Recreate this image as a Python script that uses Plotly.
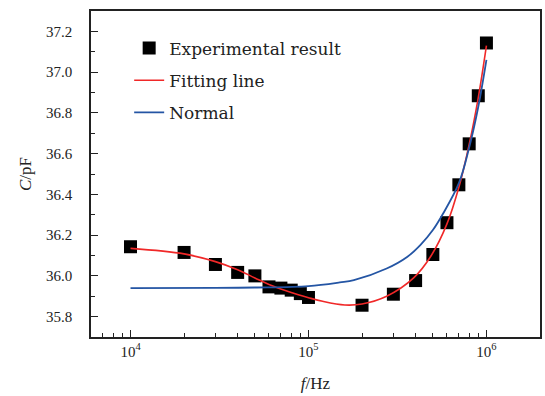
import plotly.graph_objects as go

# Experimental data
freq_exp = [1e4, 2e4, 3e4, 4e4, 5e4, 6e4, 7e4, 8e4, 9e4, 1e5,
            2e5, 3e5, 4e5, 5e5, 6e5, 7e5, 8e5, 9e5, 1e6]
cap_exp = [36.143, 36.115, 36.056, 36.017, 36.000, 35.946, 35.940, 35.930, 35.913, 35.894,
           35.856, 35.910, 35.977, 36.105, 36.261, 36.447, 36.648, 36.884, 37.143]

# Fitting line
freq_fit = [1e4, 2e4, 3e4, 4e4, 5e4, 6e4, 8e4, 1e5, 1.2e5, 1.6e5, 2e5,
            2.75e5, 3.9e5, 4.9e5, 6e5, 7e5, 8e5, 9e5, 1e6]
cap_fit = [36.135, 36.108, 36.070, 36.030, 35.990, 35.958, 35.918, 35.893, 35.875, 35.857, 35.862,
           35.900, 35.990, 36.100, 36.255, 36.435, 36.645, 36.875, 37.130]

# Normal curve
freq_norm = [1e4, 3e4, 5e4, 1e5, 1.5e5, 1.8e5, 2.75e5, 3.6e5, 4.25e5, 5e5, 5.7e5,
             7e5, 8e5, 9e5, 1e6]
cap_norm = [35.940, 35.941, 35.943, 35.950, 35.968, 35.979, 36.036, 36.094, 36.151, 36.225,
            36.305, 36.455, 36.630, 36.830, 37.060]

x_tickvals = [1e4, 1e5, 1e6]
x_ticktext = ["10<sup>4</sup>", "10<sup>5</sup>", "10<sup>6</sup>"]
x_minorvals = [m * 10 ** e for e in (3, 4, 5, 6) for m in range(2, 10)]

SERIF = "Liberation Serif"
LEG_FONT = "DejaVu Serif"
X_RANGE = [3.778, 6.301]

fig = go.Figure()
fig.add_trace(go.Scatter(
    x=freq_exp, y=cap_exp, mode="markers", name="Experimental result",
    marker=dict(symbol="square", size=13, color="black"),
    legendgroup="a"))
fig.add_trace(go.Scatter(
    x=freq_fit, y=cap_fit, mode="lines", name="Fitting line",
    line=dict(color="#f02828", width=1.6, shape="spline"),
    legendgroup="b"))
fig.add_trace(go.Scatter(
    x=freq_norm, y=cap_norm, mode="lines", name="Normal",
    line=dict(color="#2455a4", width=1.8, shape="spline"),
    legendgroup="c"))
# invisible trace to carry the minor tick axis
fig.add_trace(go.Scatter(x=[1e4], y=[36.0], xaxis="x2", mode="markers",
                         marker=dict(opacity=0), showlegend=False, hoverinfo="skip"))

fig.update_layout(
    width=545, height=396,
    margin=dict(l=91, r=5, t=11, b=59),
    paper_bgcolor="white", plot_bgcolor="white",
    font=dict(family=SERIF, size=15, color="#222"),
    showlegend=True,
    legend=dict(x=0.085, y=0.94, xanchor="left", yanchor="top",
                bgcolor="rgba(0,0,0,0)", font=dict(family=LEG_FONT, size=17, color="#222"),
                traceorder="grouped", tracegroupgap=7),
    xaxis2=dict(type="log", range=X_RANGE, overlaying="x", anchor="y", side="bottom",
                tickvals=x_minorvals, showticklabels=False,
                ticks="inside", ticklen=4, tickwidth=1, tickcolor="#222",
                showgrid=False, zeroline=False, showline=False, automargin=False),
    xaxis=dict(
        type="log", range=X_RANGE,
        tickvals=x_tickvals, ticktext=x_ticktext,
        ticks="inside", ticklen=7, tickwidth=1.2, tickcolor="#222",
        ticklabelstandoff=0,
        showline=True, linecolor="#222", linewidth=1.5, mirror=True,
        showgrid=False, zeroline=False, automargin=False,
        title=dict(text="<i>f</i>/Hz", font=dict(family=SERIF, size=17), standoff=18),
    ),
    yaxis=dict(
        range=[35.7, 37.3], dtick=0.2, tick0=35.8, tickformat=".1f",
        ticks="inside", ticklen=7, tickwidth=1.2, tickcolor="#222",
        ticklabelstandoff=14,
        minor=dict(ticks="inside", ticklen=4, dtick=0.1, tick0=35.7, tickwidth=1,
                   tickcolor="#222", showgrid=False),
        showline=True, linecolor="#222", linewidth=1.5, mirror=True,
        showgrid=False, zeroline=False, automargin=False,
        title=dict(text="<i>C</i>/pF", font=dict(family=SERIF, size=17), standoff=10),
    ),
)

fig.write_html("out.html", config={"displayModeBar": False},
               post_script="document.body.style.margin='0';")
